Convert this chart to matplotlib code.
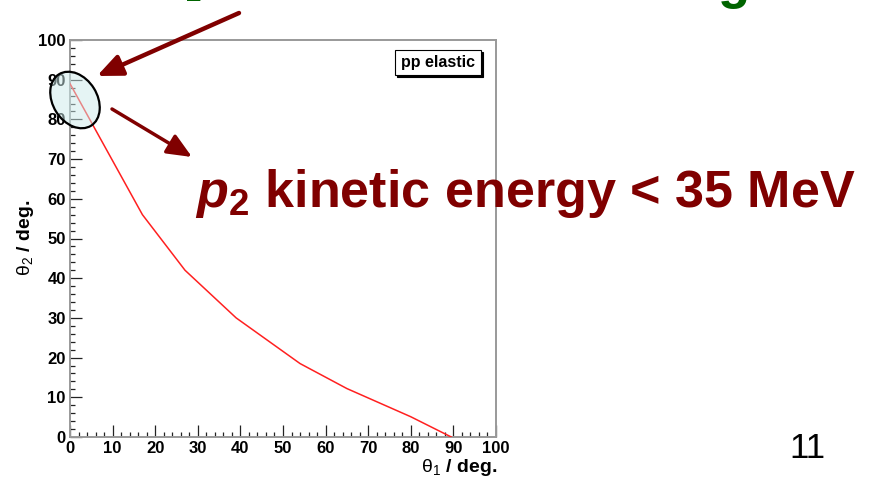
import matplotlib
matplotlib.use("Agg")
import matplotlib.pyplot as plt
from matplotlib.patches import Ellipse, Rectangle, FancyArrowPatch

plt.rcParams['font.family'] = ['Liberation Sans', 'DejaVu Sans']
plt.rcParams['mathtext.fontset'] = 'custom'
plt.rcParams['mathtext.rm'] = 'Liberation Sans'
plt.rcParams['mathtext.it'] = 'Liberation Sans:italic'
plt.rcParams['mathtext.bf'] = 'Liberation Sans:bold'
plt.rcParams['mathtext.bfit'] = 'Liberation Sans:bold:italic'

# pp elastic kinematics: angle of proton 2 vs angle of proton 1
theta1 = [0, 17, 27, 39, 54, 65, 80, 89.5]
theta2 = [89, 56, 42, 30, 18.5, 12.2, 5.1, 0]

W, H = 881, 483
fig = plt.figure(figsize=(W / 100, H / 100), dpi=100)
fig.patch.set_facecolor('white')


def fpx(x, y):
    # pixel position (from top-left) -> figure fraction
    return x / W, 1 - y / H


ax = fig.add_axes([70 / W, 1 - 437 / H, (496 - 70) / W, (437 - 40) / H])
ax.plot(theta1, theta2, color='#ff2020', lw=1.1, zorder=3)
ax.set_xlim(0, 100)
ax.set_ylim(0, 100)
ax.set_xticks(range(0, 101, 10))
ax.set_yticks(range(0, 101, 10))
ax.set_xticks(range(0, 101, 2), minor=True)
ax.set_yticks(range(0, 101, 2), minor=True)
for s in ax.spines.values():
    s.set_color('#999999')
    s.set_linewidth(1.4)
ax.tick_params(which='both', direction='in', color='#222222', width=0.9,
               top=False, right=False)
ax.tick_params(which='major', length=8.5, labelsize=12, pad=3)
ax.tick_params(which='minor', length=3.8)
for lab in ax.get_xticklabels() + ax.get_yticklabels():
    lab.set_fontweight('bold')

fig.text(*fpx(497, 467), r'$\mathrm{\theta}_{1}$ / deg.', ha='right', va='center',
         fontsize=14, fontweight='bold')
fig.text(*fpx(26, 238), r'$\mathrm{\theta}_{2}$ / deg.', ha='center', va='center',
         rotation=90, fontsize=14, fontweight='bold')

# legend-like label box with shadow
bx0, by0, bx1, by1 = 395, 50, 481, 75
fig.patches.append(Rectangle(fpx(bx0 + 2, by1 + 2), (bx1 - bx0) / W, (by1 - by0) / H,
                             transform=fig.transFigure, facecolor='black',
                             edgecolor='black', lw=0.8, zorder=5))
fig.patches.append(Rectangle(fpx(bx0, by1), (bx1 - bx0) / W, (by1 - by0) / H,
                             transform=fig.transFigure, facecolor='white',
                             edgecolor='black', lw=0.8, zorder=6))
fig.text(*fpx((bx0 + bx1) / 2, 63), 'pp elastic', ha='center', va='center',
         fontsize=11.5, fontweight='bold', zorder=7)

# highlight of the small-angle region
fig.patches.append(Ellipse((0.75, 3.83), 0.606, 0.444, angle=-58,
                           transform=fig.dpi_scale_trans,
                           facecolor=(0.80, 0.92, 0.92, 0.5),
                           edgecolor='black', lw=1.6, zorder=8))

dark_red = '#800000'
fig.patches.append(FancyArrowPatch(fpx(239, 13), fpx(97, 76), transform=fig.transFigure,
                                   arrowstyle='-|>,head_length=1.5,head_width=0.65',
                                   mutation_scale=10, color=dark_red, lw=3.2,
                                   shrinkA=0, shrinkB=0, zorder=9))
fig.patches.append(FancyArrowPatch(fpx(112, 109), fpx(192, 157), transform=fig.transFigure,
                                   arrowstyle='-|>,head_length=1.5,head_width=0.65',
                                   mutation_scale=10, color=dark_red, lw=2.5,
                                   shrinkA=0, shrinkB=0, zorder=9))

fig.text(*fpx(195, 207), r'$\mathbfit{p}_{\mathbf{2}}$ kinetic energy < 35 MeV',
         ha='left', va='baseline', fontsize=37.5, fontweight='bold', color=dark_red,
         zorder=10)

# slide heading and page number
green = '#006400'
fig.text(*fpx(186, 7), '2', ha='left', va='bottom', fontsize=20, fontweight='bold',
         color=green)
fig.text(*fpx(718, -2), 'g', ha='left', va='baseline', fontsize=38, fontweight='bold',
         color=green)
fig.text(*fpx(807, 458), '11', ha='center', va='baseline', fontsize=25, color='black')

fig.savefig('out.png', dpi=100, facecolor='white')
